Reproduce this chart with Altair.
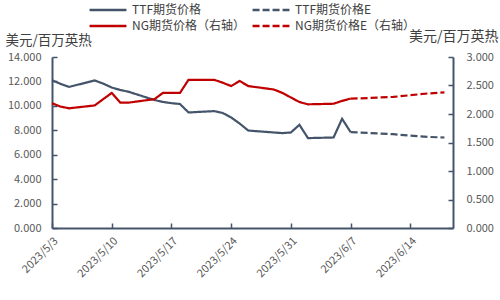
import altair as alt
import pandas as pd

# ---- data ----
dates = ["2023-05-03", "2023-05-04", "2023-05-05", "2023-05-08", "2023-05-09",
         "2023-05-10", "2023-05-11", "2023-05-12", "2023-05-15", "2023-05-16",
         "2023-05-17", "2023-05-18", "2023-05-19", "2023-05-22", "2023-05-23",
         "2023-05-24", "2023-05-25", "2023-05-26", "2023-05-29", "2023-05-30",
         "2023-05-31", "2023-06-01", "2023-06-02", "2023-06-05", "2023-06-06",
         "2023-06-07"]
ttf = [12.10, 11.80, 11.55, 12.08, 11.82, 11.50, 11.30, 11.15, 10.48, 10.32,
       10.22, 10.15, 9.46, 9.57, 9.42, 9.05, 8.55, 7.98, 7.82, 7.77,
       7.82, 8.45, 7.36, 7.41, 8.94, 7.85]
ng = [2.19, 2.13, 2.10, 2.15, 2.26, 2.37, 2.20, 2.20, 2.26, 2.37,
      2.37, 2.37, 2.60, 2.60, 2.55, 2.49, 2.58, 2.49, 2.43, 2.37,
      2.29, 2.21, 2.17, 2.18, 2.23, 2.27]

fc_dates = ["2023-06-07", "2023-06-09", "2023-06-12", "2023-06-14", "2023-06-16", "2023-06-18"]
ttf_e = [7.85, 7.78, 7.68, 7.56, 7.46, 7.41]
ng_e = [2.27, 2.28, 2.30, 2.33, 2.36, 2.38]

series_names = ["TTF期货价格", "TTF期货价格E", "NG期货价格（右轴）", "NG期货价格E（右轴）"]
legend_order = ["TTF期货价格", "NG期货价格（右轴）", "TTF期货价格E", "NG期货价格E（右轴）"]
tick_days = [(5, 3), (5, 10), (5, 17), (5, 24), (5, 31), (6, 7), (6, 14)]

NAVY = "#44546A"
RED = "#C00000"
FONT = "Noto Sans CJK SC"
GREY = "#595959"

rows = []
for d, v in zip(dates, ttf):
    rows.append({"date": d + "T00:00:00", "value": v, "series": series_names[0]})
for d, v in zip(fc_dates, ttf_e):
    rows.append({"date": d + "T00:00:00", "value": v, "series": series_names[1]})
for d, v in zip(dates, ng):
    rows.append({"date": d + "T00:00:00", "value": v, "series": series_names[2]})
for d, v in zip(fc_dates, ng_e):
    rows.append({"date": d + "T00:00:00", "value": v, "series": series_names[3]})
df = pd.DataFrame(rows)

colors = {series_names[0]: NAVY, series_names[1]: NAVY, series_names[2]: RED, series_names[3]: RED}
dashes = {series_names[0]: [1, 0], series_names[1]: [7, 3], series_names[2]: [1, 0], series_names[3]: [7, 3]}

legend = alt.Legend(
    title=None, orient="none", legendX=50, legendY=-53, columns=2,
    symbolType="M-4,0H4", symbolSize=85, symbolStrokeWidth=2.5,
    labelFont=FONT, labelFontSize=12, labelColor="#404040",
    columnPadding=2, rowPadding=4, labelLimit=300, labelOffset=18,
)

color = alt.Color("series:N",
                  scale=alt.Scale(domain=legend_order, range=[colors[s] for s in legend_order]),
                  legend=legend)
dash = alt.StrokeDash("series:N",
                      scale=alt.Scale(domain=legend_order, range=[dashes[s] for s in legend_order]),
                      legend=legend)

x = alt.X("date:T",
          scale=alt.Scale(domain=[alt.DateTime(year=2023, month=5, date=3),
                                  alt.DateTime(year=2023, month=6, date=19)]),
          axis=alt.Axis(values=[alt.DateTime(year=2023, month=m, date=d) for m, d in tick_days],
                        format="%Y/%-m/%-d", labelAngle=-45, labelAlign="right",
                        labelBaseline="middle", labelPadding=16, labelOffset=4,
                        title=None, grid=False,
                        domainColor=NAVY, domainWidth=2, tickColor=NAVY, tickWidth=1.5,
                        tickSize={"expr": "-5"},
                        labelFont=FONT, labelFontSize=11, labelColor=GREY))

base = alt.Chart(df).mark_line(strokeWidth=2.2).encode(x=x, color=color, strokeDash=dash)

left = base.transform_filter(
    alt.FieldOneOfPredicate(field="series", oneOf=series_names[:2])
).encode(
    y=alt.Y("value:Q", scale=alt.Scale(domain=[0, 14]),
            axis=alt.Axis(orient="left", values=list(range(0, 15, 2)), format=".3f",
                          title="美元/百万英热", titleAngle=0, titleAlign="left",
                          titleBaseline="alphabetic", titleX=-47, titleY=-13,
                          titleFont=FONT, titleFontSize=13.5, titleFontWeight="normal",
                          titleColor="#404040", grid=False,
                          domainColor=NAVY, domainWidth=2, tickColor=NAVY, tickWidth=1.5,
                          tickSize={"expr": "-5"}, labelPadding=16,
                          labelFont=FONT, labelFontSize=11, labelColor=GREY))
)

right = base.transform_filter(
    alt.FieldOneOfPredicate(field="series", oneOf=series_names[2:])
).encode(
    y=alt.Y("value:Q", scale=alt.Scale(domain=[0, 3]),
            axis=alt.Axis(orient="right", values=[0, 0.5, 1, 1.5, 2, 2.5, 3], format=".3f",
                          title="美元/百万英热", titleAngle=0, titleAlign="right",
                          titleBaseline="alphabetic", titleX=45, titleY=-17,
                          titleFont=FONT, titleFontSize=14, titleFontWeight="normal",
                          titleColor="#404040", grid=False,
                          domainColor=NAVY, domainWidth=2, tickColor=NAVY, tickWidth=1.5,
                          tickSize={"expr": "-5"}, labelPadding=18,
                          labelFont=FONT, labelFontSize=11, labelColor=GREY))
)

chart = alt.layer(left, right).resolve_scale(y="independent").properties(
    width=401, height=171,
    autosize=alt.AutoSizeParams(type="none"),
    padding={"left": 52, "top": 57, "right": 47, "bottom": 72},
).configure_view(stroke=None)

chart.save("out.html", embed_options={"renderer": "svg", "actions": False})
